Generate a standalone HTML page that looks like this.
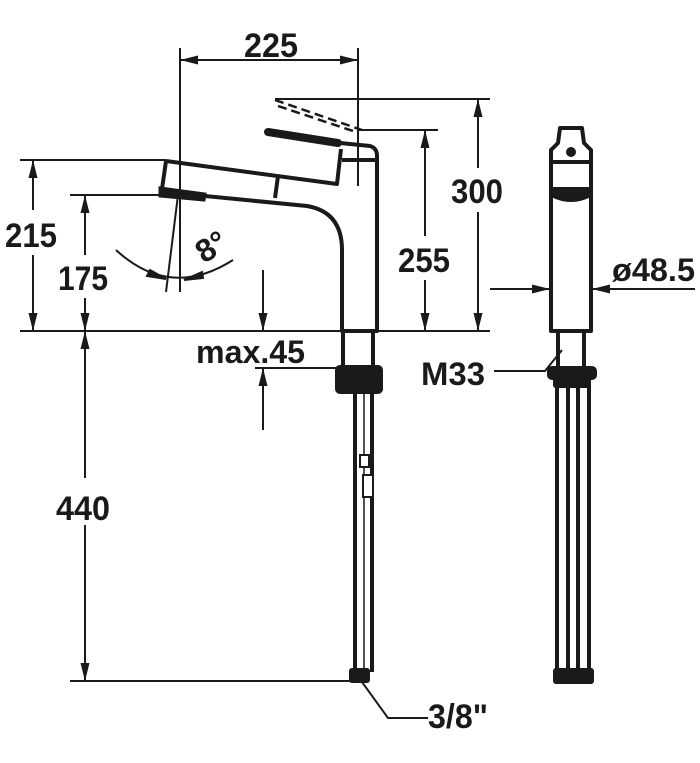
<!DOCTYPE html>
<html><head><meta charset="utf-8"><style>
html,body{margin:0;padding:0;background:#fff;}
svg{display:block;}
text{font-family:"Liberation Sans",sans-serif;font-weight:bold;fill:#1a1a1a;}
</style></head><body>
<svg width="700" height="763" viewBox="0 0 700 763" xmlns="http://www.w3.org/2000/svg">
<defs>
<marker id="b" viewBox="0 0 10 10" refX="10" refY="5" markerWidth="18" markerHeight="18" markerUnits="userSpaceOnUse" orient="auto-start-reverse"><path d="M0,2.5 L10,5 L0,7.5 Z" fill="#1a1a1a"/></marker>
</defs>
<g stroke="#1a1a1a" stroke-width="2" fill="none">
<line x1="180" y1="48" x2="180" y2="292"/>
<line x1="358" y1="48" x2="358" y2="186"/>
<line x1="180" y1="60" x2="358" y2="60" marker-start="url(#b)" marker-end="url(#b)"/>
<line x1="20" y1="331" x2="490" y2="331"/>
<line x1="20" y1="160" x2="166" y2="160"/>
<line x1="70" y1="195" x2="178" y2="195"/>
<line x1="70" y1="681" x2="352" y2="681"/>
<line x1="33" y1="160" x2="33" y2="210" marker-start="url(#b)"/>
<line x1="33" y1="255" x2="33" y2="331" marker-end="url(#b)"/>
<line x1="85" y1="195" x2="85" y2="255" marker-start="url(#b)"/>
<line x1="85" y1="298" x2="85" y2="331" marker-end="url(#b)"/>
<line x1="85" y1="331" x2="85" y2="478" marker-start="url(#b)"/>
<line x1="85" y1="525" x2="85" y2="681" marker-end="url(#b)"/>
<line x1="275" y1="99" x2="490" y2="99"/>
<line x1="478" y1="99" x2="478" y2="168" marker-start="url(#b)"/>
<line x1="478" y1="212" x2="478" y2="331" marker-end="url(#b)"/>
<line x1="358" y1="130" x2="438" y2="130"/>
<line x1="425" y1="130" x2="425" y2="236" marker-start="url(#b)"/>
<line x1="425" y1="280" x2="425" y2="331" marker-end="url(#b)"/>
<line x1="263" y1="270" x2="263" y2="331" marker-end="url(#b)"/>
<line x1="255" y1="368" x2="340" y2="368"/>
<line x1="263" y1="430" x2="263" y2="368" marker-end="url(#b)"/>
<line x1="178" y1="195" x2="166" y2="292"/>
<path d="M116,250 Q170,300 233,260"/>
<path d="M150,270 L166,279 L147,276 Z" fill="#1a1a1a"/>
<path d="M202,272 L184,280 L203,278 Z" fill="#1a1a1a"/>
<line x1="490" y1="289" x2="550" y2="289" marker-end="url(#b)"/>
<line x1="695" y1="289" x2="592" y2="289" marker-end="url(#b)"/>
<polyline points="494,371 545,371 562,350"/>
<polyline points="362,682 388,718 428,718"/>
</g>
<g stroke="#1a1a1a" stroke-width="4" fill="none" stroke-linejoin="round">
<path d="M166,161 L337,184 L341,149"/>
<path d="M162,189 L166,161"/>
<path d="M205,196 L307,206 Q342,212 342,250 L342,331 L377,331 L377,156 Q377,148 370,146 L340,143"/>
<line x1="342" y1="160" x2="377" y2="160"/>
<line x1="278" y1="176" x2="275" y2="198"/>
<path d="M343,331 L343,365 M373,331 L373,365"/>
<line x1="355" y1="392" x2="355" y2="672"/>
<line x1="372" y1="392" x2="372" y2="672"/>
</g>
<line x1="268" y1="132" x2="338" y2="143" stroke="#1a1a1a" stroke-width="8" stroke-linecap="round"/>
<path d="M160,188 L205,194 L204,200 L160,196 Z" fill="#1a1a1a" stroke="#1a1a1a" stroke-width="3"/>
<g stroke="#1a1a1a" stroke-width="2.5" stroke-dasharray="9,5" fill="none">
<line x1="275" y1="100" x2="362" y2="130"/>
<line x1="278" y1="106" x2="356" y2="132"/>
</g>
<line x1="364" y1="392" x2="364" y2="672" stroke="#1a1a1a" stroke-width="1.5"/>
<rect x="335" y="365" width="48" height="29" rx="5" fill="#1a1a1a"/>
<rect x="360" y="455" width="9" height="12" fill="#fff" stroke="#1a1a1a" stroke-width="2"/>
<rect x="363" y="475" width="10" height="22" fill="#fff" stroke="#1a1a1a" stroke-width="2"/>
<rect x="349" y="668" width="21" height="15" rx="3" fill="#1a1a1a"/>
<g stroke="#1a1a1a" stroke-width="4" fill="none" stroke-linejoin="round">
<path d="M551,331 L551,150 L558,143 L560,128 L582,128 L584,143 L591,150 L591,331 Z"/>
<line x1="551" y1="162" x2="591" y2="162"/>
<line x1="558" y1="331" x2="558" y2="368"/>
<line x1="584" y1="331" x2="584" y2="368"/>
<line x1="557" y1="385" x2="557" y2="672"/>
<line x1="589" y1="385" x2="589" y2="672"/>
<line x1="568" y1="385" x2="568" y2="672"/>
<line x1="578" y1="385" x2="578" y2="672"/>
</g>
<circle cx="571" cy="152" r="5" fill="#1a1a1a"/>
<path d="M551,187 L591,187 L591,197 Q571,207 551,197 Z" fill="#1a1a1a"/>
<rect x="547" y="366" width="50" height="14" rx="5" fill="#1a1a1a"/>
<rect x="553" y="376" width="38" height="12" rx="3" fill="#1a1a1a"/>
<rect x="553" y="668" width="41" height="16" rx="3" fill="#1a1a1a"/>
<text x="244" y="57" font-size="34" textLength="54" lengthAdjust="spacingAndGlyphs">225</text>
<text x="5" y="247" font-size="34" textLength="52" lengthAdjust="spacingAndGlyphs">215</text>
<text x="58" y="290" font-size="34" textLength="50" lengthAdjust="spacingAndGlyphs">175</text>
<text x="56" y="520" font-size="34" textLength="54" lengthAdjust="spacingAndGlyphs">440</text>
<text x="451" y="203" font-size="34" textLength="52" lengthAdjust="spacingAndGlyphs">300</text>
<text x="398" y="272" font-size="34" textLength="52" lengthAdjust="spacingAndGlyphs">255</text>
<text x="196" y="363" font-size="32" textLength="109" lengthAdjust="spacingAndGlyphs">max.45</text>
<text x="421" y="385" font-size="32" textLength="64" lengthAdjust="spacingAndGlyphs">M33</text>
<text x="612" y="281" font-size="32" textLength="83" lengthAdjust="spacingAndGlyphs">ø48.5</text>
<text x="428" y="728" font-size="34" textLength="60" lengthAdjust="spacingAndGlyphs">3/8"</text>
<text x="0" y="0" font-size="32" transform="translate(204,264) rotate(-32)">8°</text>
</svg>
</body></html>
